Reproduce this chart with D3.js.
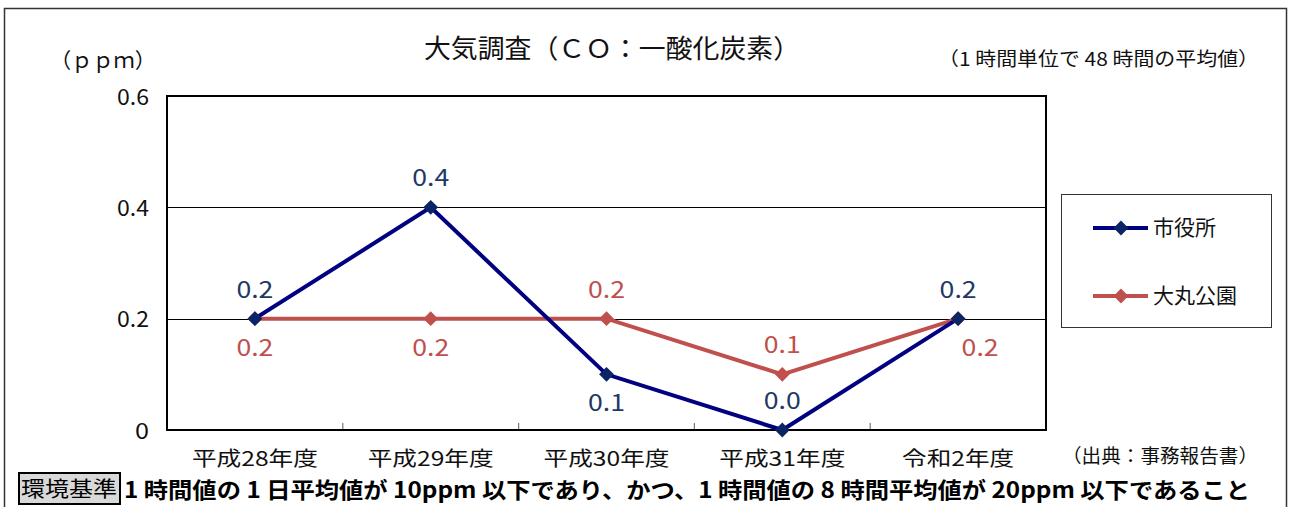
<!DOCTYPE html>
<html><head><meta charset="utf-8">
<script src="https://cdn.jsdelivr.net/npm/d3@7"></script>
<style>
html,body{margin:0;padding:0;background:#fff;}
svg{display:block;font-family:"Noto Sans CJK JP","Noto Sans",sans-serif;}
</style></head>
<body>
<svg id="chart" width="1290" height="507"></svg>
<script>
const categories = ["平成28年度","平成29年度","平成30年度","平成31年度","令和2年度"];
const shiyakusho = [0.2, 0.4, 0.1, 0.0, 0.2];
const daimaruKoen = [0.2, 0.2, 0.2, 0.1, 0.2];
const shiyakushoLabels = ["0.2","0.4","0.1","0.0","0.2"];
const daimaruLabels = ["0.2","0.2","0.2","0.1","0.2"];
const yTicks = [0, 0.2, 0.4, 0.6];
const yTickLabels = ["0","0.2","0.4","0.6"];
const seriesNames = ["市役所","大丸公園"];

const svg = d3.select("#chart");
const plot = {l:167, t:96, r:1046, b:430};

const x = d3.scaleBand().domain(categories).range([plot.l, plot.r]);
const y = d3.scaleLinear().domain([0, 0.6]).range([plot.b, plot.t]);

function fitText(sel, w){
  sel.each(function(){
    const len = this.getComputedTextLength();
    if (len > 0) { d3.select(this).attr("textLength", w).attr("lengthAdjust","spacingAndGlyphs"); }
  });
}
function fitEach(sel, wf){
  sel.each(function(d,i){
    d3.select(this).attr("textLength", wf(d,i)).attr("lengthAdjust","spacingAndGlyphs");
  });
}

// outer border
svg.append("rect").attr("x",4.5).attr("y",8.5).attr("width",1282).attr("height",510)
  .attr("fill","none").attr("stroke","#333").attr("stroke-width",1.5);

// gridlines
svg.append("g").selectAll("line").data([0.2,0.4]).join("line")
  .attr("x1",plot.l).attr("x2",plot.r).attr("y1",d=>Math.round(y(d))+0.5).attr("y2",d=>Math.round(y(d))+0.5)
  .attr("stroke","#000").attr("stroke-width",1);

// x ticks (inward, between categories)
const bounds = categories.slice(1).map(c => x(c));
svg.append("g").selectAll("line").data(bounds).join("line")
  .attr("x1",d=>d).attr("x2",d=>d).attr("y1",plot.b-7).attr("y2",plot.b)
  .attr("stroke","#777").attr("stroke-width",1.2);

// plot frame
svg.append("rect").attr("x",plot.l).attr("y",plot.t).attr("width",plot.r-plot.l).attr("height",plot.b-plot.t)
  .attr("fill","none").attr("stroke","#000").attr("stroke-width",2);

// y labels
svg.append("g").selectAll("text").data(yTicks).join("text")
  .attr("x",149).attr("y",d=>y(d)+1).attr("dy","0.35em").attr("text-anchor","end")
  .attr("font-size",22).attr("fill","#111").text((d,i)=>yTickLabels[i])
  .call(fitEach,(d,i)=> yTickLabels[i].length>1 ? 32 : 14);

// x labels
svg.append("g").selectAll("text").data(categories).join("text")
  .attr("x",d=>x(d)+x.bandwidth()/2).attr("y",459).attr("dy","0.35em").attr("text-anchor","middle")
  .attr("font-size",20).attr("fill","#111").text(d=>d)
  .call(fitEach,(d)=> d.length===6 ? 126 : 112);

// series
const series = [
  {name:seriesNames[0], values:shiyakusho, labels:shiyakushoLabels, color:"#000080", mcolor:"#0b2466", lcolor:"#1f3864",
   pos:["up","up","down","up","up"]},
  {name:seriesNames[1], values:daimaruKoen, labels:daimaruLabels, color:"#c0504d", mcolor:"#c0504d", lcolor:"#c0504d",
   pos:["down","down","up","up","rightdown"]}
];
const line = d3.line().x((d,i)=>x(categories[i])+x.bandwidth()/2).y(d=>y(d));
const diamond = d3.symbol().type(d3.symbolDiamond2).size(140);

[series[1], series[0]].forEach(s=>{
  svg.append("path").datum(s.values).attr("d",line).attr("fill","none")
    .attr("stroke",s.color).attr("stroke-width",4).attr("stroke-linejoin","miter");
});
[series[1], series[0]].forEach(s=>{
  svg.append("g").selectAll("path").data(s.values).join("path")
    .attr("transform",(d,i)=>`translate(${x(categories[i])+x.bandwidth()/2},${y(d)})`)
    .attr("d",diamond).attr("fill",s.mcolor);
});
series.forEach(s=>{
  svg.append("g").selectAll("text").data(s.values).join("text")
    .attr("x",(d,i)=>x(categories[i])+x.bandwidth()/2 + (s.pos[i]==="rightdown"?22:0))
    .attr("y",(d,i)=>y(d) + (s.pos[i]==="up"?-29:29))
    .attr("dy","0.35em").attr("text-anchor","middle")
    .attr("font-size",23).attr("fill",s.lcolor).text((d,i)=>s.labels[i])
    .call(fitEach,()=>37);
});

// title
svg.append("text").attr("x",612).attr("y",49).attr("dy","0.35em").attr("text-anchor","middle")
  .attr("font-size",26).attr("fill","#111").text("大気調査（ＣＯ：一酸化炭素）").call(fitText,376);
svg.append("text").attr("x",50).attr("y",61).attr("dy","0.35em")
  .attr("font-size",21).attr("fill","#111").text("（ｐｐｍ）").call(fitText,106);
svg.append("text").attr("x",938).attr("y",59).attr("dy","0.35em")
  .attr("font-size",19).attr("fill","#111").text("（1 時間単位で 48 時間の平均値）").call(fitText,321);
svg.append("text").attr("x",1062).attr("y",456).attr("dy","0.35em")
  .attr("font-size",19).attr("fill","#111").text("（出典：事務報告書）").call(fitText,196);

// legend
svg.append("rect").attr("x",1061.5).attr("y",194.5).attr("width",210).attr("height",133)
  .attr("fill","#fff").attr("stroke","#333").attr("stroke-width",1);
series.forEach((s,i)=>{
  const ly = i===0 ? 228 : 296;
  svg.append("line").attr("x1",1093).attr("x2",1148).attr("y1",ly).attr("y2",ly)
    .attr("stroke",s.color).attr("stroke-width",4);
  svg.append("path").attr("transform",`translate(1121,${ly})`).attr("d",diamond).attr("fill",s.mcolor);
  svg.append("text").attr("x",1153).attr("y",ly).attr("dy","0.35em")
    .attr("font-size",21).attr("fill","#111").text(s.name);
});

// environmental standard
svg.append("rect").attr("x",19).attr("y",473).attr("width",101).attr("height",31)
  .attr("fill","#d9d9d9").attr("stroke","#000").attr("stroke-width",2);
svg.append("text").attr("x",21).attr("y",489).attr("dy","0.35em")
  .attr("font-size",21).attr("fill","#000").text("環境基準").call(fitText,96);
svg.append("text").attr("x",124).attr("y",490).attr("dy","0.35em")
  .attr("font-size",22).attr("font-weight","bold").attr("fill","#000")
  .text("1 時間値の 1 日平均値が 10ppm 以下であり、かつ、1 時間値の 8 時間平均値が 20ppm 以下であること").call(fitText,1126);
</script>
</body></html>
